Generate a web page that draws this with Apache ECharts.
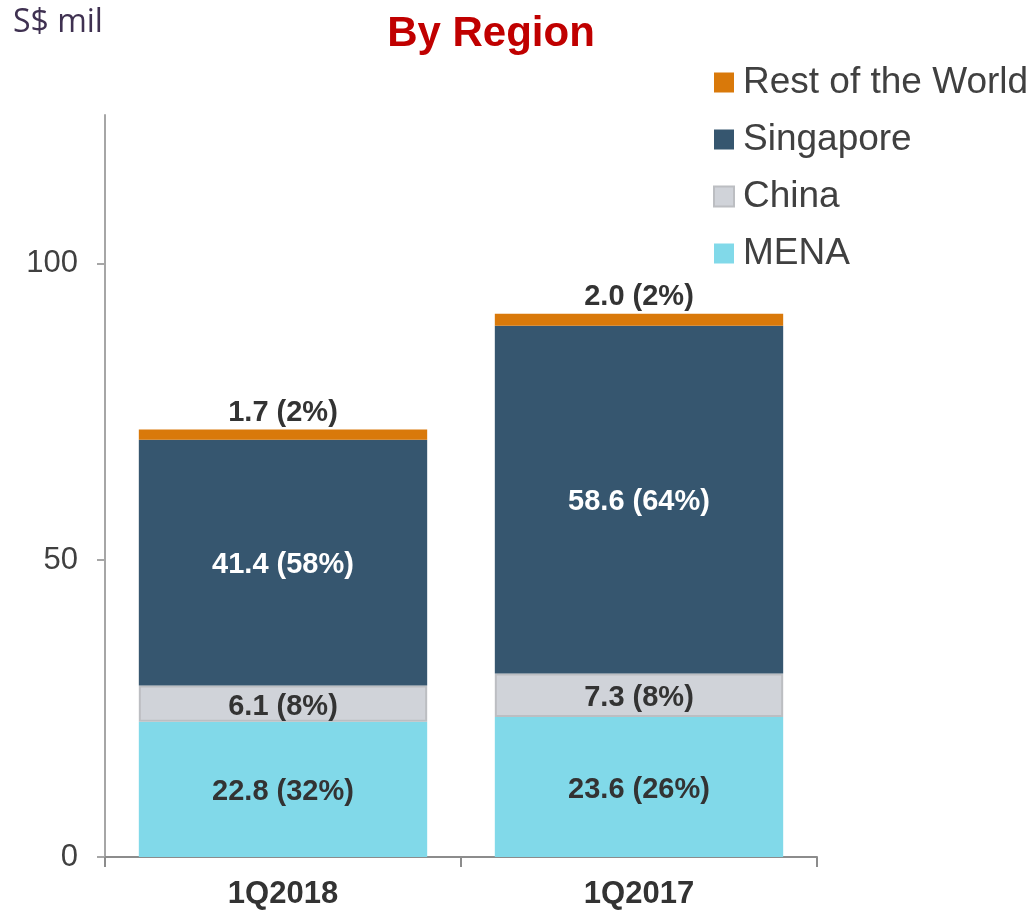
<!DOCTYPE html>
<html><head><meta charset="utf-8">
<script src="https://cdn.jsdelivr.net/npm/echarts@6/dist/echarts.min.js"></script>
<style>html,body{margin:0;padding:0;background:#fff}#c{width:1033px;height:912px}</style>
</head><body><div id="c"></div>
<script>
const categories = ['1Q2018', '1Q2017'];
const mena = [22.8, 23.6];
const menaPct = [32, 26];
const china = [6.1, 7.3];
const chinaPct = [8, 8];
const singapore = [41.4, 58.6];
const singaporePct = [58, 64];
const rest = [1.7, 2.0];
const restPct = [2, 2];
const yTicks = [0, 50, 100];

const font = 'Liberation Sans, Arial, sans-serif';
function lbl(pcts, color, pos, off) {
  return {
    show: true, position: pos || 'inside', color: color, fontFamily: font,
    fontWeight: 'bold', fontSize: 29, distance: 2, offset: off || [0, 0],
    formatter: p => p.value.toFixed(1) + ' (' + pcts[p.dataIndex] + '%)'
  };
}
const chart = echarts.init(document.getElementById('c'));
chart.setOption({
  animation: false,
  title: [
    { text: 'By Region', left: 486, textAlign: 'center', top: 8,
      textStyle: { color: '#c00000', fontFamily: font, fontWeight: 'bold', fontSize: 42 } },
    { text: 'S$ mil', left: 8, top: 2,
      textStyle: { color: '#3f3151', fontFamily: 'Open Sans, sans-serif', fontWeight: 'normal', fontSize: 32 } }
  ],
  legend: {
    orient: 'vertical', left: 708, top: 59, itemGap: 20, itemWidth: 20, itemHeight: 20,
    icon: 'rect', textStyle: { fontFamily: font, fontSize: 37, color: '#404040', padding: [0, 0, 0, 4] },
    data: ['Rest of the World', 'Singapore', 'China', 'MENA']
  },
  grid: { left: 105, top: 115, width: 712, height: 742 },
  xAxis: {
    type: 'category', data: categories,
    axisLine: { lineStyle: { color: '#8c8c8c', width: 2 } },
    axisTick: { show: true, length: 10, lineStyle: { color: '#8c8c8c', width: 2 } },
    axisLabel: { color: '#333', fontFamily: font, fontWeight: 'bold', fontSize: 31, margin: 22 }
  },
  yAxis: {
    type: 'value', min: 0, max: 125, interval: 25,
    splitLine: { show: false },
    axisLine: { show: true, lineStyle: { color: '#a6a6a6', width: 2 } },
    axisTick: { show: true, length: 8, customValues: yTicks, lineStyle: { color: '#a6a6a6', width: 2 } },
    axisLabel: { customValues: yTicks, color: '#404040', fontFamily: font, fontSize: 31, margin: 27 }
  },
  series: [
    { name: 'MENA', type: 'bar', stack: 's', data: mena, barCategoryGap: '19%',
      itemStyle: { color: '#81d9e9' }, label: lbl(menaPct, '#333', 'inside', [0, 3]) },
    { name: 'China', type: 'bar', stack: 's', data: china,
      itemStyle: { color: '#d0d3d9', borderColor: '#bcbec2', borderWidth: 2 }, label: lbl(chinaPct, '#333', 'inside', [0, 3]) },
    { name: 'Singapore', type: 'bar', stack: 's', data: singapore,
      itemStyle: { color: '#36566f' }, label: lbl(singaporePct, '#fff', 'inside', [0, 2]) },
    { name: 'Rest of the World', type: 'bar', stack: 's', data: rest,
      itemStyle: { color: '#d9790a' }, label: lbl(restPct, '#333', 'top') }
  ]
});
</script></body></html>
